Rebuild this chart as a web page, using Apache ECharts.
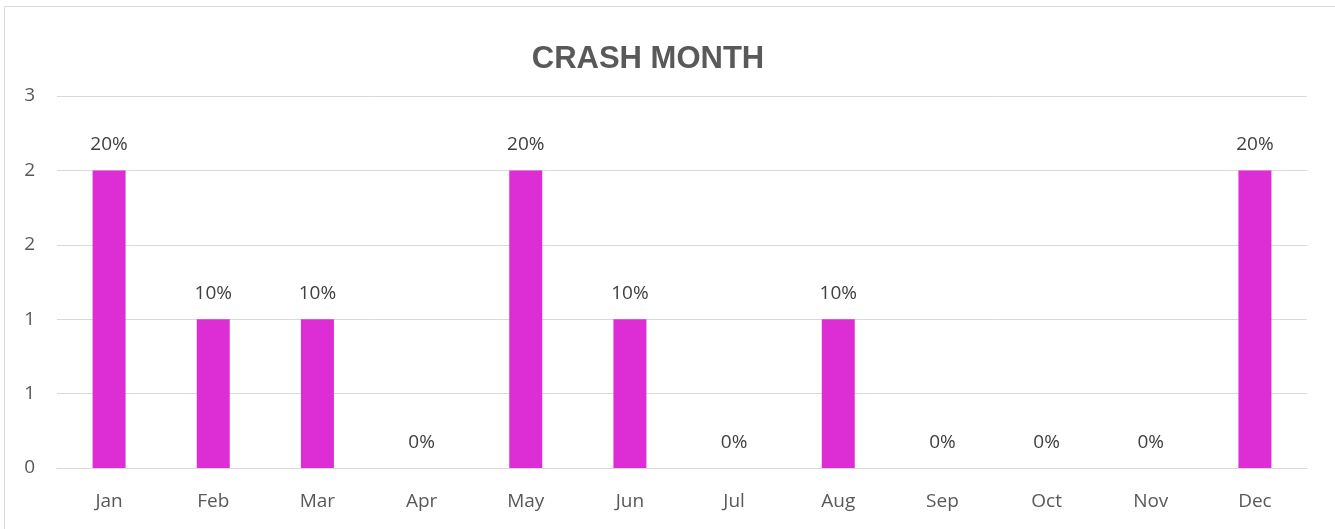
<html>
<head>
    <title>CRASH MONTH</title>
    <script src="https://cdn.jsdelivr.net/npm/echarts@6/dist/echarts.min.js" type="text/javascript"></script>
</head>
<body style="margin:0;background:#fff;">
    <div id="barDiv" style="width:1335px;height:529px;"></div>
</body>
<script type="text/javascript">
    var months = ['Jan', 'Feb', 'Mar', 'Apr', 'May', 'Jun', 'Jul', 'Aug', 'Sep', 'Oct', 'Nov', 'Dec'];
    var crashes = [2, 1, 1, 0, 2, 1, 0, 1, 0, 0, 0, 2];
    var yMax = 2.5;
    var yStep = 0.5;

    var total = 0;
    for (var i = 0; i < crashes.length; i++) {
        total += crashes[i];
    }

    var barChart = echarts.init(document.getElementById('barDiv'));
    var option = {
        animation: false,
        title: {
            text: 'CRASH MONTH',
            left: 643,
            top: 28,
            textAlign: 'center',
            textStyle: { fontFamily: 'Liberation Sans', fontSize: 31, fontWeight: 'bold', color: '#595959' }
        },
        graphic: [{
            type: 'rect',
            shape: { x: 4.5, y: 6.5, width: 1340, height: 530 },
            style: { fill: 'none', stroke: '#d9d9d9', lineWidth: 1 },
            silent: true
        }],
        grid: { left: 57, right: 28, top: 96, bottom: 61 },
        xAxis: {
            type: 'category',
            data: months,
            axisTick: { show: false },
            axisLine: { lineStyle: { color: '#d9d9d9', width: 1 } },
            axisLabel: { color: '#595959', fontFamily: 'Open Sans', fontSize: 19, margin: 18 }
        },
        yAxis: {
            type: 'value',
            min: 0,
            max: yMax,
            interval: yStep,
            axisLine: { show: false },
            axisTick: { show: false },
            splitLine: { lineStyle: { color: '#d9d9d9', width: 1 } },
            axisLabel: {
                color: '#595959', fontFamily: 'Open Sans', fontSize: 19, margin: 22,
                formatter: function (v) { return Math.round(v + 1e-9); }
            }
        },
        series: [{
            type: 'bar',
            data: crashes,
            barWidth: 33,
            itemStyle: { color: '#dd2dd4' },
            label: {
                show: true,
                position: 'top',
                distance: 10,
                color: '#404040',
                fontFamily: 'Open Sans',
                fontSize: 19,
                formatter: function (p) { return Math.round(p.value / total * 100) + '%'; }
            }
        }]
    };
    barChart.setOption(option);
</script>
</html>
